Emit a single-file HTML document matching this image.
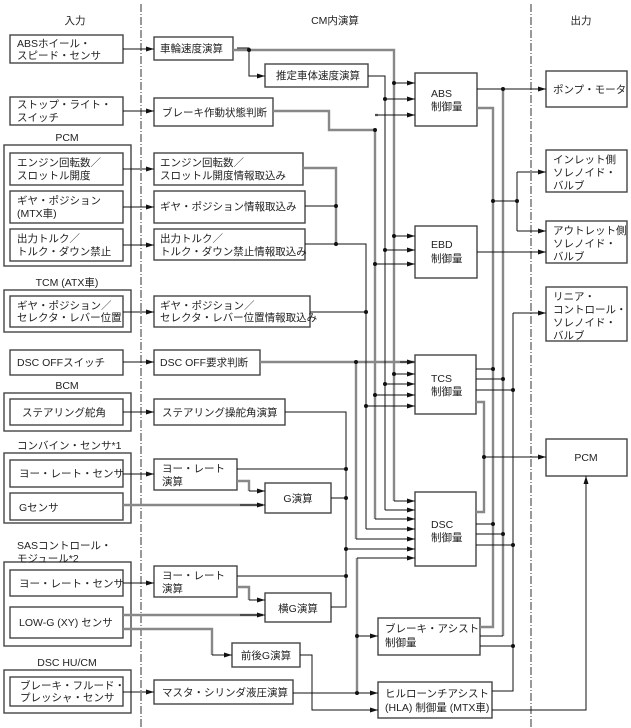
<!DOCTYPE html>
<html><head><meta charset="utf-8"><style>
html,body{margin:0;padding:0;background:#fff}
svg{display:block}
text{font-family:"Liberation Sans","Noto Sans CJK JP",sans-serif;font-size:10.5px;fill:#222}
</style></head><body>
<svg width="631" height="728" viewBox="0 0 631 728" xmlns="http://www.w3.org/2000/svg">
<defs><marker id="a" markerWidth="8" markerHeight="6" refX="8" refY="3" orient="auto" markerUnits="userSpaceOnUse"><path d="M0,0.5 L8,3 L0,5.5z" fill="#111"/></marker></defs>
<g stroke="#333" stroke-width="1" fill="none" stroke-dasharray="8,2,1,2">
<line x1="141" y1="4" x2="141" y2="728"/><line x1="531" y1="4" x2="531" y2="728"/></g>
<text x="75" y="24" text-anchor="middle">入力</text>
<text x="335" y="24" text-anchor="middle">CM内演算</text>
<text x="581" y="24" text-anchor="middle">出力</text>
<g fill="#fff" stroke="#444" stroke-width="1.4">
<rect x="4" y="145" width="127" height="121"/><rect x="4" y="290" width="127" height="42"/>
<rect x="4" y="393" width="127" height="38"/><rect x="4" y="453" width="127" height="70"/>
<rect x="4" y="562" width="127" height="84"/><rect x="4" y="670" width="127" height="43"/>
<rect x="10" y="35" width="113" height="28"/><rect x="10" y="97" width="113" height="28"/>
<rect x="10" y="153" width="113" height="32"/><rect x="10" y="191" width="113" height="32"/><rect x="10" y="229" width="113" height="32"/>
<rect x="10" y="296" width="113" height="31"/><rect x="10" y="350" width="113" height="25"/>
<rect x="10" y="399" width="113" height="26"/><rect x="10" y="460" width="113" height="27"/><rect x="10" y="493" width="113" height="27"/>
<rect x="10" y="570" width="113" height="26"/><rect x="10" y="607" width="113" height="31"/><rect x="10" y="677" width="113" height="29"/>
<rect x="154" y="37" width="79" height="23"/><rect x="265" y="64" width="103" height="23"/><rect x="154" y="98" width="119" height="28"/>
<rect x="154" y="153" width="149" height="32"/><rect x="154" y="191" width="151" height="32"/><rect x="154" y="229" width="151" height="31"/>
<rect x="154" y="296" width="156" height="31"/><rect x="154" y="350" width="106" height="25"/><rect x="154" y="399" width="131" height="26"/>
<rect x="154" y="459" width="83" height="31"/><rect x="265" y="483" width="66" height="30"/>
<rect x="154" y="566" width="83" height="31"/><rect x="265" y="593" width="66" height="29"/>
<rect x="232" y="643" width="68" height="24"/><rect x="154" y="680" width="139" height="24"/>
<rect x="415" y="73" width="62" height="53"/><rect x="415" y="226" width="62" height="52"/>
<rect x="415" y="355" width="61" height="59"/><rect x="415" y="492" width="61" height="74"/>
<rect x="378" y="618" width="102" height="37"/><rect x="378" y="682" width="114" height="36"/>
<rect x="546" y="71" width="81" height="36"/><rect x="546" y="150" width="81" height="42"/><rect x="546" y="221" width="81" height="42"/>
<rect x="546" y="287" width="81" height="54"/><rect x="546" y="439" width="81" height="37"/>
</g>
<g>
<text x="67" y="141" text-anchor="middle">PCM</text><text x="67" y="286" text-anchor="middle">TCM (ATX車)</text>
<text x="67" y="389" text-anchor="middle">BCM</text><text x="17" y="449">コンバイン・センサ*1</text>
<text x="17" y="549">SASコントロール・</text><text x="17" y="562">モジュール*2</text><text x="67" y="666" text-anchor="middle">DSC HU/CM</text>
<text x="17" y="47">ABSホイール・</text><text x="17" y="59">スピード・センサ</text>
<text x="17" y="108">ストップ・ライト・</text><text x="17" y="121">スイッチ</text>
<text x="17" y="166">エンジン回転数／</text><text x="17" y="179">スロットル開度</text>
<text x="17" y="204">ギヤ・ポジション</text><text x="17" y="217">(MTX車)</text>
<text x="17" y="242">出力トルク／</text><text x="17" y="255">トルク・ダウン禁止</text>
<text x="17" y="309">ギヤ・ポジション／</text><text x="17" y="321">セレクタ・レバー位置</text>
<text x="17" y="366">DSC OFFスイッチ</text><text x="22" y="416">ステアリング舵角</text>
<text x="19" y="477">ヨー・レート・センサ</text><text x="19" y="511">Gセンサ</text>
<text x="19" y="587">ヨー・レート・センサ</text><text x="19" y="626">LOW-G (XY) センサ</text>
<text x="20" y="689">ブレーキ・フルード・</text><text x="20" y="701">プレッシャ・センサ</text>
<text x="160" y="52">車輪速度演算</text><text x="276" y="79">推定車体速度演算</text><text x="162" y="116">ブレーキ作動状態判断</text>
<text x="160" y="166">エンジン回転数／</text><text x="160" y="179">スロットル開度情報取込み</text>
<text x="160" y="210">ギヤ・ポジション情報取込み</text>
<text x="160" y="242">出力トルク／</text><text x="160" y="255">トルク・ダウン禁止情報取込み</text>
<text x="160" y="309">ギヤ・ポジション／</text><text x="160" y="321">セレクタ・レバー位置情報取込み</text>
<text x="160" y="366">DSC OFF要求判断</text><text x="162" y="416">ステアリング操舵角演算</text>
<text x="162" y="472">ヨー・レート</text><text x="162" y="485">演算</text><text x="298" y="502" text-anchor="middle">G演算</text>
<text x="162" y="579">ヨー・レート</text><text x="162" y="592">演算</text><text x="298" y="612" text-anchor="middle">横G演算</text>
<text x="266" y="659" text-anchor="middle">前後G演算</text><text x="162" y="696">マスタ・シリンダ液圧演算</text>
<text x="431" y="97">ABS</text><text x="431" y="110">制御量</text>
<text x="431" y="248">EBD</text><text x="431" y="262">制御量</text>
<text x="431" y="382">TCS</text><text x="431" y="395">制御量</text>
<text x="431" y="528">DSC</text><text x="431" y="541">制御量</text>
<text x="385" y="632">ブレーキ・アシスト</text><text x="385" y="646">制御量</text>
<text x="385" y="697">ヒルローンチアシスト</text><text x="385" y="711">(HLA) 制御量 (MTX車)</text>
<text x="553" y="93">ポンプ・モータ</text>
<text x="553" y="163">インレット側</text><text x="553" y="176">ソレノイド・</text><text x="553" y="189">バルブ</text>
<text x="553" y="234">アウトレット側</text><text x="553" y="247">ソレノイド・</text><text x="553" y="260">バルブ</text>
<text x="553" y="300">リニア・</text><text x="553" y="313">コントロール・</text><text x="553" y="326">ソレノイド・</text><text x="553" y="339">バルブ</text>
<text x="586" y="461" text-anchor="middle">PCM</text>
</g>
<!-- gray thick buses -->
<g stroke="#888" stroke-width="2.4" fill="none">
<polyline points="233,50 394,50 394,501"/>
<polyline points="273,111 329,111 329,130 375,130 375,519"/>
<polyline points="303,168 336,168 336,244"/>
<polyline points="260,362 414,362"/><polyline points="356,362 356,539"/>
<polyline points="378,115 375,115"/>
<polyline points="503,89 503,636"/>
<polyline points="477,108 493,108 493,627 480,627"/>
<polyline points="357,558 357,691"/>
<polyline points="237,481 249,481 249,491"/><polyline points="237,587 249,587 249,600"/>
<polyline points="123,615 263,615"/><polyline points="123,505 263,505"/>
<polyline points="123,629 212,629 212,655"/>
<polyline points="476,402 484,402 484,512 476,512"/>
</g>
<!-- black lines -->
<g stroke="#111" stroke-width="1" fill="none">
<polyline points="368,76 385,76 385,510"/>
<polyline points="305,206 336,206"/><polyline points="305,244 366,244 366,529"/>
<polyline points="310,312 366,312"/>
<polyline points="285,412 346,412 346,607 331,607"/>
<polyline points="237,469 346,469"/><polyline points="331,498 346,498"/><polyline points="237,576 346,576"/>
<polyline points="300,655 312,655 312,710 378,710"/>
<polyline points="293,693 378,693"/>
<polyline points="477,89 546,89"/><polyline points="493,201 517,201"/><polyline points="517,172 517,231"/>
<polyline points="477,252 546,252"/>
<polyline points="513,313 513,691 492,691"/>
<polyline points="484,457 546,457"/>
<polyline points="492,710 586,710 586,476"/>
<polyline points="476,369 493,369"/><polyline points="476,379 503,379"/><polyline points="476,390 513,390"/>
<polyline points="476,524 493,524"/><polyline points="476,534 503,534"/><polyline points="476,545 513,545"/>
<polyline points="480,636 503,636"/><polyline points="480,646 513,646"/>
<polyline points="237,48 249,48 249,76 265,76"/>
</g>
<!-- arrows -->
<g stroke="#111" stroke-width="1" fill="none" marker-end="url(#a)">
<line x1="123" y1="49" x2="154" y2="49"/><line x1="123" y1="111" x2="154" y2="111"/>
<line x1="123" y1="169" x2="154" y2="169"/><line x1="123" y1="207" x2="154" y2="207"/><line x1="123" y1="245" x2="154" y2="245"/>
<line x1="123" y1="312" x2="154" y2="312"/><line x1="123" y1="362" x2="154" y2="362"/><line x1="123" y1="412" x2="154" y2="412"/>
<line x1="123" y1="474" x2="154" y2="474"/><line x1="123" y1="583" x2="154" y2="583"/><line x1="123" y1="692" x2="154" y2="692"/>
<line x1="249" y1="76" x2="265" y2="76"/>
<line x1="249" y1="491" x2="265" y2="491"/><line x1="240" y1="505" x2="265" y2="505"/>
<line x1="249" y1="600" x2="265" y2="600"/><line x1="240" y1="615" x2="265" y2="615"/>
<line x1="212" y1="655" x2="232" y2="655"/>
<line x1="394" y1="83" x2="415" y2="83"/><line x1="385" y1="99" x2="415" y2="99"/><line x1="375" y1="115" x2="415" y2="115"/>
<line x1="394" y1="236" x2="415" y2="236"/><line x1="385" y1="250" x2="415" y2="250"/><line x1="375" y1="264" x2="415" y2="264"/>
<line x1="400" y1="362" x2="415" y2="362"/><line x1="394" y1="374" x2="415" y2="374"/><line x1="384" y1="384" x2="415" y2="384"/><line x1="375" y1="395" x2="415" y2="395"/><line x1="366" y1="406" x2="415" y2="406"/>
<line x1="394" y1="501" x2="415" y2="501"/><line x1="385" y1="510" x2="415" y2="510"/><line x1="375" y1="519" x2="415" y2="519"/><line x1="366" y1="529" x2="415" y2="529"/>
<line x1="356" y1="539" x2="415" y2="539"/><line x1="346" y1="549" x2="415" y2="549"/><line x1="357" y1="558" x2="415" y2="558"/>
<line x1="357" y1="636" x2="378" y2="636"/><line x1="357" y1="693" x2="378" y2="693"/><line x1="312" y1="710" x2="378" y2="710"/>
<line x1="520" y1="89" x2="546" y2="89"/><line x1="517" y1="172" x2="546" y2="172"/><line x1="517" y1="231" x2="546" y2="231"/>
<line x1="520" y1="252" x2="546" y2="252"/><line x1="513" y1="313" x2="546" y2="313"/><line x1="500" y1="457" x2="546" y2="457"/>
<line x1="586" y1="500" x2="586" y2="476"/>
</g>
<g fill="#111">
<circle cx="249" cy="50" r="2"/><circle cx="394" cy="83" r="2"/><circle cx="385" cy="99" r="2"/><circle cx="375" cy="130" r="2"/>
<circle cx="394" cy="236" r="2"/><circle cx="385" cy="250" r="2"/><circle cx="375" cy="264" r="2"/>
<circle cx="336" cy="206" r="2"/><circle cx="336" cy="244" r="2"/><circle cx="366" cy="312" r="2"/>
<circle cx="356" cy="362" r="2"/><circle cx="394" cy="374" r="2"/><circle cx="385" cy="384" r="2"/><circle cx="375" cy="395" r="2"/><circle cx="366" cy="406" r="2"/>
<circle cx="346" cy="469" r="2"/><circle cx="346" cy="498" r="2"/><circle cx="346" cy="549" r="2"/><circle cx="346" cy="576" r="2"/>
<circle cx="357" cy="636" r="2"/><circle cx="357" cy="693" r="2"/>
<circle cx="503" cy="89" r="2"/><circle cx="493" cy="201" r="2"/><circle cx="517" cy="201" r="2"/>
<circle cx="493" cy="369" r="2"/><circle cx="503" cy="379" r="2"/><circle cx="513" cy="390" r="2"/><circle cx="484" cy="457" r="2"/>
<circle cx="493" cy="524" r="2"/><circle cx="503" cy="534" r="2"/><circle cx="513" cy="545" r="2"/><circle cx="513" cy="646" r="2"/>
</g>
</svg>
</body></html>
